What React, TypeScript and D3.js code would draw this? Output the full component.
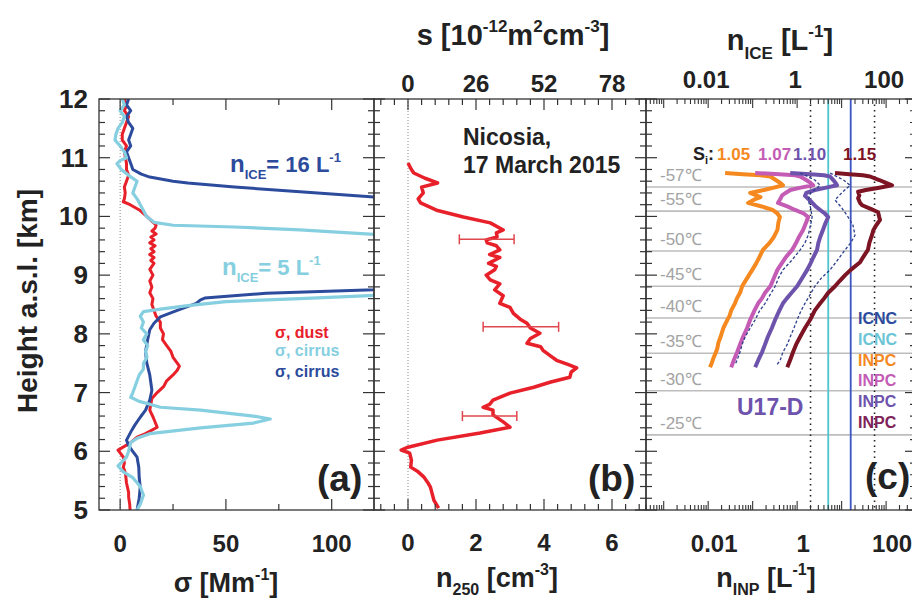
import React from "react";
import * as d3 from "d3";

const FONT = "'Liberation Sans', Arial, Helvetica, sans-serif";

const RED = "#e8202a";
const CYAN = "#86cfe0";
const NAVY = "#2c4b9c";
const ORANGE = "#f5891f";
const MAGENTA = "#c45bb4";
const PURPLE = "#6e53ad";
const DARKRED = "#7d1424";
const DASHNAVY = "#2d3f8f";

// ---- panel (a): sigma [Mm-1] vs height [km]
const dustSigma: [number, number][] = [
  [12.0, 2], [11.9, 3], [11.8, 2], [11.7, 4], [11.6, 3], [11.5, 2], [11.4, 1], [11.3, 1],
  [11.2, 3], [11.1, 2], [11.0, 2.5], [10.9, 3], [10.8, 3], [10.7, 4], [10.6, 3], [10.5, 2],
  [10.4, 2.4], [10.3, 2], [10.25, 1.5], [10.2, 4.7], [10.1, 9.5], [10.0, 12.6], [9.9, 15.6],
  [9.85, 17], [9.8, 16.5], [9.75, 15], [9.7, 17], [9.65, 14.5], [9.6, 16], [9.55, 14],
  [9.5, 16.5], [9.45, 14.5], [9.4, 16], [9.35, 14], [9.3, 16], [9.25, 14.5], [9.2, 16],
  [9.1, 14], [9.0, 15.5], [8.9, 14], [8.8, 15], [8.7, 14], [8.6, 15.5], [8.5, 15], [8.4, 16],
  [8.3, 17], [8.2, 19], [8.1, 19], [8.0, 20.5], [7.9, 20], [7.8, 22], [7.7, 24], [7.6, 25],
  [7.5, 27], [7.45, 28], [7.38, 27], [7.3, 25], [7.2, 22], [7.1, 20.5], [7.0, 17.5], [6.9, 15],
  [6.8, 14.5], [6.7, 14], [6.58, 15.6], [6.41, 17.5], [6.3, 12], [6.24, 8], [6.14, 4.7],
  [6.02, -1], [5.9, 1.5], [5.8, 2], [5.73, 1.5], [5.63, 2.5], [5.46, 3], [5.3, 4], [5.22, 4],
  [5.1, 4.5], [5.0, 4.7],
];

const cirrusSigma5: [number, number | null][] = [
  [12.0, 1], [11.9, 2], [11.8, 0], [11.7, 2], [11.6, 1], [11.5, -1], [11.4, -2], [11.3, -2.4],
  [11.2, 0], [11.1, 2], [11.0, 3], [10.95, 0], [10.9, -1.5], [10.8, 0.5], [10.7, 4], [10.6, 8],
  [10.5, 7], [10.4, 6], [10.3, 8], [10.2, 9.5], [10.1, 11], [10.0, 12.5], [9.9, 16], [9.85, 25],
  [9.82, 54], [9.77, 85], [9.7, 118], [9.62, 140], [9.0, null], [8.7, 140], [8.65, 118],
  [8.6, 85], [8.55, 50], [8.48, 32], [8.42, 19], [8.38, 11], [8.3, 9.5], [8.2, 11], [8.1, 10],
  [8.0, 12.6], [7.9, 11], [7.8, 13], [7.7, 12], [7.6, 12.7], [7.5, 11], [7.4, 11], [7.3, 9],
  [7.2, 8], [7.1, 7], [7.0, 6], [6.92, 5], [6.85, 9], [6.8, 14], [6.75, 19], [6.7, 38],
  [6.6, 63], [6.55, 71], [6.48, 63], [6.4, 38], [6.3, 14], [6.22, 8], [6.15, 5], [6.0, 4],
  [5.9, 3], [5.75, -1], [5.65, 1.5], [5.55, 6], [5.4, 9.5], [5.25, 11], [5.1, 9.5], [5.0, 8],
];

const cirrusSigma16: [number, number | null][] = [
  [12.0, 4], [11.9, 3], [11.8, 5], [11.7, 3], [11.6, 4], [11.5, 6], [11.4, 5], [11.3, 4],
  [11.2, 5], [11.1, 3], [11.0, 4], [10.9, 5], [10.8, 6], [10.72, 10], [10.67, 14], [10.6, 25],
  [10.57, 32], [10.5, 54], [10.42, 85], [10.33, 120], [10.25, 140], [9.5, null], [8.8, 140],
  [8.75, 120], [8.69, 69], [8.61, 40], [8.58, 38], [8.52, 36], [8.4, 27], [8.29, 19],
  [8.18, 16], [8.07, 14], [7.9, 13], [7.7, 12], [7.5, 12.6], [7.3, 14], [7.04, 15], [6.87, 14],
  [6.7, 12], [6.58, 9.5], [6.45, 7], [6.36, 5.5], [6.19, 3], [6.1, 4], [6.02, 5.5], [5.9, 8],
  [5.73, 8.8], [5.55, 9], [5.39, 9.5], [5.2, 9], [5.0, 8],
];

// ---- panel (b): n250 [cm-3] vs height [km]
const n250: [number, number][] = [
  [10.91, 0], [10.8, 0.1], [10.74, 0.17], [10.65, 0.5], [10.57, 0.87], [10.5, 0.4], [10.4, 0.45],
  [10.3, 0.3], [10.23, 0.37], [10.1, 0.87], [9.99, 1.63], [9.89, 2.42], [9.77, 2.8], [9.72, 2.6],
  [9.65, 2.62], [9.6, 2.3], [9.55, 2.33], [9.5, 2.6], [9.43, 2.7], [9.35, 2.4], [9.3, 2.7],
  [9.2, 2.37], [9.15, 2.6], [9.09, 2.55], [9.0, 2.3], [8.92, 2.42], [8.85, 2.7], [8.75, 2.55],
  [8.65, 2.8], [8.52, 2.7], [8.45, 3.0], [8.35, 3.1], [8.25, 3.3], [8.18, 3.5], [8.1, 3.6],
  [8.01, 3.88], [7.92, 3.6], [7.84, 3.5], [7.78, 3.9], [7.72, 3.97], [7.62, 4.2], [7.55, 4.37],
  [7.48, 4.7], [7.42, 4.96], [7.35, 4.8], [7.26, 4.76], [7.18, 4.2], [7.09, 3.7], [6.99, 3.0],
  [6.87, 2.5], [6.8, 2.4], [6.75, 2.21], [6.7, 2.5], [6.62, 2.5], [6.5, 2.8], [6.41, 3.0],
  [6.31, 2.12], [6.19, 0.86], [6.07, 0], [6.02, -0.2], [5.97, 0.05], [5.85, 0.1], [5.73, 0.08],
  [5.65, 0.3], [5.56, 0.47], [5.45, 0.6], [5.39, 0.66], [5.3, 0.7], [5.17, 0.76], [5.03, 0.9],
];

// error bars: [height, low, high]
const n250Errors: [number, number, number][] = [
  [9.61, 1.51, 3.12],
  [8.12, 2.21, 4.43],
  [6.6, 1.6, 3.2],
];

// ---- panel (c): INP concentration [L-1] vs height [km]
const inp105: [number, number][] = [
  [10.74, 0.024], [10.72, 0.06], [10.7, 0.15], [10.68, 0.25], [10.62, 0.33], [10.57, 0.42],
  [10.53, 0.48], [10.49, 0.3], [10.45, 0.18], [10.4, 0.088], [10.36, 0.12], [10.33, 0.15],
  [10.29, 0.11], [10.23, 0.079], [10.17, 0.16], [10.11, 0.28], [10.05, 0.36], [9.99, 0.41],
  [9.9, 0.38], [9.77, 0.36], [9.65, 0.3], [9.55, 0.24], [9.43, 0.17], [9.3, 0.14], [9.2, 0.12],
  [9.09, 0.098], [8.95, 0.075], [8.81, 0.058], [8.7, 0.052], [8.6, 0.044], [8.52, 0.04],
  [8.4, 0.033], [8.3, 0.03], [8.24, 0.027], [8.1, 0.022], [7.95, 0.019], [7.85, 0.017],
  [7.75, 0.016], [7.69, 0.015], [7.58, 0.013], [7.5, 0.012], [7.43, 0.011],
];
const inp107: [number, number][] = [
  [10.74, 0.114], [10.72, 0.4], [10.7, 0.9], [10.68, 1.17], [10.62, 1.6], [10.57, 2.0],
  [10.53, 2.29], [10.49, 1.2], [10.45, 0.7], [10.4, 0.55], [10.36, 0.46], [10.3, 0.42],
  [10.23, 0.37], [10.17, 0.6], [10.11, 0.9], [10.05, 1.4], [9.99, 1.77], [9.9, 1.6],
  [9.77, 1.36], [9.65, 1.1], [9.55, 0.95], [9.43, 0.77], [9.3, 0.55], [9.2, 0.45], [9.09, 0.36],
  [8.95, 0.3], [8.81, 0.25], [8.7, 0.19], [8.6, 0.16], [8.52, 0.133], [8.4, 0.11], [8.24, 0.088],
  [8.1, 0.075], [7.95, 0.061], [7.82, 0.052], [7.69, 0.045], [7.56, 0.038], [7.43, 0.033],
];
const inp110: [number, number][] = [
  [10.74, 0.7], [10.72, 2.0], [10.7, 4.0], [10.68, 5.5], [10.62, 6.5], [10.57, 7.3],
  [10.53, 7.9], [10.49, 4.5], [10.45, 2.5], [10.4, 1.6], [10.35, 1.5], [10.28, 1.9],
  [10.23, 2.2], [10.17, 2.6], [10.11, 3.3], [10.05, 4.2], [9.99, 5.0], [9.88, 4.3], [9.77, 3.8],
  [9.65, 3.3], [9.55, 3.0], [9.43, 2.8], [9.3, 2.3], [9.2, 2.0], [9.09, 1.68], [8.95, 1.3],
  [8.81, 1.0], [8.7, 0.75], [8.6, 0.58], [8.52, 0.48], [8.4, 0.4], [8.24, 0.32], [8.1, 0.27],
  [7.95, 0.22], [7.82, 0.19], [7.69, 0.163], [7.56, 0.135], [7.43, 0.114],
];
const inp115: [number, number][] = [
  [10.74, 7.1], [10.72, 15], [10.7, 30], [10.68, 43.7], [10.62, 70], [10.57, 100], [10.53, 136],
  [10.49, 70], [10.45, 35], [10.42, 23.5], [10.36, 25], [10.31, 23.5], [10.23, 26], [10.19, 28.9],
  [10.13, 45], [10.07, 66], [9.99, 70], [9.94, 73], [9.85, 60], [9.77, 52], [9.68, 48],
  [9.55, 42], [9.43, 39], [9.3, 30], [9.22, 26], [9.09, 16], [9.0, 12], [8.9, 9], [8.81, 7.1],
  [8.7, 5], [8.6, 4], [8.52, 3.3], [8.4, 2.5], [8.24, 1.96], [8.1, 1.5], [7.95, 1.17],
  [7.82, 0.95], [7.69, 0.81], [7.56, 0.7], [7.43, 0.6],
];
const inpLow: [number, number][] = [
  [10.74, 1.17], [10.62, 2.5], [10.53, 3.3], [10.4, 2.0], [10.28, 1.77], [10.15, 2.0],
  [9.99, 2.17], [9.85, 2.0], [9.68, 1.77], [9.55, 1.5], [9.43, 1.17], [9.25, 0.75], [9.09, 0.48],
  [8.95, 0.38], [8.81, 0.32], [8.65, 0.24], [8.52, 0.19], [8.38, 0.14], [8.24, 0.114],
  [8.1, 0.088], [7.95, 0.068], [7.82, 0.058], [7.69, 0.052], [7.56, 0.045], [7.47, 0.04],
];
const inpHigh: [number, number][] = [
  [10.74, 5.5], [10.62, 11], [10.53, 15.5], [10.4, 10], [10.28, 7.1], [10.15, 10], [9.99, 14],
  [9.85, 18], [9.68, 20], [9.55, 16], [9.43, 12], [9.25, 8], [9.09, 5.5], [8.95, 3.5],
  [8.81, 2.5], [8.65, 1.9], [8.52, 1.5], [8.38, 1.2], [8.24, 1.0], [8.1, 0.85], [7.95, 0.7],
  [7.82, 0.6], [7.69, 0.48], [7.56, 0.42], [7.47, 0.35],
];

const iceLines = [16, 5]; // n_ICE [L-1]
const dottedLines = [2, 55];

const tempLabels = ["-57℃", "-55℃", "-50℃", "-45℃", "-40℃", "-35℃", "-30℃", "-25℃"];
const tempHeights = [10.5, 10.09, 9.41, 8.81, 8.27, 7.67, 7.03, 6.28];

const siLabels = ["1.05", "1.07", "1.10", "1.15"];
const legendLabels = ["ICNC", "ICNC", "INPC", "INPC", "INPC", "INPC"];
const legendColors = [NAVY, "#6cc5d6", ORANGE, MAGENTA, PURPLE, "#7e2258"];

const heightTicks = [5, 6, 7, 8, 9, 10, 11, 12];
const sigmaTicks = [0, 50, 100];
const n250Ticks = [0, 2, 4, 6];
const sTicks = [0, 26, 52, 78];
const logLabelVals = [0.01, 1, 100];
const logLabelText = ["0.01", "1", "100"];

const TOP = 99;
const BOT = 510;
const AX: [number, number] = [99, 374];
const BX: [number, number] = [374, 646];
const CX: [number, number] = [646, 916];

export default function App() {
  const y = d3.scaleLinear().domain([5, 12]).range([BOT, TOP]);
  const xa = d3.scaleLinear().domain([-10, 120]).range(AX);
  const xb = d3.scaleLinear().domain([-1, 7]).range(BX);
  const xbTop = d3.scaleLinear().domain([-13, 91]).range(BX);
  const xc = d3.scaleLog().domain([4e-4, 470]).range(CX);

  const lineA = d3
    .line<[number, number | null]>()
    .defined((d) => d[1] !== null)
    .x((d) => xa(d[1] as number))
    .y((d) => y(d[0]));
  const lineB = d3.line<[number, number]>().x((d) => xb(d[1])).y((d) => y(d[0]));
  const lineC = d3.line<[number, number]>().x((d) => xc(d[1])).y((d) => y(d[0]));

  const yMinor = d3.range(5, 12.001, 0.2).filter((v) => Math.abs(v - Math.round(v)) > 0.01);

  const yTicks = (x0: number, x1: number, key: string) => (
    <g key={key} stroke="#333" strokeWidth={1.2}>
      {heightTicks.map((v) => (
        <g key={"M" + v}>
          <line x1={x0} x2={x0 + 11} y1={y(v)} y2={y(v)} />
          <line x1={x1} x2={x1 - 11} y1={y(v)} y2={y(v)} />
        </g>
      ))}
      {yMinor.map((v) => (
        <g key={"m" + v}>
          <line x1={x0} x2={x0 + 6} y1={y(v)} y2={y(v)} />
          <line x1={x1} x2={x1 - 6} y1={y(v)} y2={y(v)} />
        </g>
      ))}
    </g>
  );

  const xTicks = (pos: number[], isMajor: (v: number) => boolean, sc: (v: number) => number, key: string) => (
    <g key={key} stroke="#333" strokeWidth={1.2}>
      {pos.map((v, i) => {
        const len = isMajor(v) ? 11 : 6;
        return (
          <g key={i}>
            <line x1={sc(v)} x2={sc(v)} y1={BOT} y2={BOT - len} />
            <line x1={sc(v)} x2={sc(v)} y1={TOP} y2={TOP + len} />
          </g>
        );
      })}
    </g>
  );

  const aTickPos = [0, 25, 50, 75, 100];
  const bTickPos = d3.range(-0.8, 6.9, 0.4);
  const cTickPos = xc.ticks();
  const isDecade = (v: number) => Math.abs(Math.log10(v) - Math.round(Math.log10(v))) < 1e-6;

  const inpSeries: [[number, number][], string][] = [
    [inp105, ORANGE],
    [inp107, MAGENTA],
    [inp110, PURPLE],
    [inp115, DARKRED],
  ];
  const siX = [717, 758, 793, 843];
  const siColors = [ORANGE, MAGENTA, PURPLE, DARKRED];

  return (
    <svg
      width={912}
      height={600}
      style={{ position: "absolute", left: 0, top: 0, background: "#fff" }}
      fontFamily={FONT}
    >
      <defs>
        <clipPath id="clipA"><rect x={AX[0]} y={TOP} width={AX[1] - AX[0]} height={BOT - TOP} /></clipPath>
        <clipPath id="clipB"><rect x={BX[0]} y={TOP} width={BX[1] - BX[0]} height={BOT - TOP} /></clipPath>
        <clipPath id="clipC"><rect x={CX[0]} y={TOP} width={CX[1] - CX[0]} height={BOT - TOP} /></clipPath>
      </defs>

      {/* panel (c) background lines */}
      <g clipPath="url(#clipC)">
        {tempHeights.map((h, i) => (
          <g key={i}>
            <line x1={CX[0]} x2={CX[1]} y1={y(h)} y2={y(h)} stroke="#bdbdbd" strokeWidth={1.6} />
            <text x={660} y={y(h) - 6} fontSize={17} fill="#a3a3a3">{tempLabels[i]}</text>
          </g>
        ))}
        {dottedLines.map((v) => (
          <line key={v} x1={xc(v)} x2={xc(v)} y1={TOP} y2={BOT} stroke="#222" strokeWidth={1.6} strokeDasharray="1.5,4" />
        ))}
        <line x1={xc(iceLines[1])} x2={xc(iceLines[1])} y1={TOP} y2={BOT} stroke="#4fc4cf" strokeWidth={1.8} />
        <line x1={xc(iceLines[0])} x2={xc(iceLines[0])} y1={TOP} y2={BOT} stroke="#3a54c2" strokeWidth={1.8} />
        {inpSeries.map(([d, c], i) => (
          <path key={i} d={lineC(d) || ""} fill="none" stroke={c} strokeWidth={4} strokeLinejoin="round" />
        ))}
        <path d={lineC(inpLow) || ""} fill="none" stroke={DASHNAVY} strokeWidth={1.3} strokeDasharray="3,2" />
        <path d={lineC(inpHigh) || ""} fill="none" stroke={DASHNAVY} strokeWidth={1.3} strokeDasharray="3,2" />
      </g>

      {/* zero lines */}
      <line x1={xa(0)} x2={xa(0)} y1={TOP} y2={BOT} stroke="#888" strokeWidth={1} strokeDasharray="1,2" />
      <line x1={xb(0)} x2={xb(0)} y1={TOP} y2={BOT} stroke="#888" strokeWidth={1} strokeDasharray="1,2" />

      {/* panel (a) profiles */}
      <g clipPath="url(#clipA)" fill="none" strokeLinejoin="round">
        <path d={lineA(dustSigma) || ""} stroke={RED} strokeWidth={3} />
        <path d={lineA(cirrusSigma16) || ""} stroke={NAVY} strokeWidth={3} />
        <path d={lineA(cirrusSigma5) || ""} stroke={CYAN} strokeWidth={3.2} />
      </g>

      {/* panel (b) profile */}
      <g clipPath="url(#clipB)">
        <path d={lineB(n250) || ""} fill="none" stroke={RED} strokeWidth={3.5} strokeLinejoin="round" />
        {n250Errors.map(([h, lo, hi], i) => (
          <g key={i} stroke="#e0464c" strokeWidth={1.5}>
            <line x1={xb(lo)} x2={xb(hi)} y1={y(h)} y2={y(h)} />
            <line x1={xb(lo)} x2={xb(lo)} y1={y(h) - 5} y2={y(h) + 5} />
            <line x1={xb(hi)} x2={xb(hi)} y1={y(h) - 5} y2={y(h) + 5} />
          </g>
        ))}
      </g>

      {/* frames */}
      <g fill="none" stroke="#333" strokeWidth={1.3}>
        <rect x={AX[0]} y={TOP} width={AX[1] - AX[0]} height={BOT - TOP} />
        <rect x={BX[0]} y={TOP} width={BX[1] - BX[0]} height={BOT - TOP} />
        <rect x={CX[0]} y={TOP} width={CX[1] - CX[0]} height={BOT - TOP} />
      </g>
      {yTicks(AX[0], AX[1], "ya")}
      {yTicks(BX[0], BX[1], "yb")}
      {yTicks(CX[0], CX[1], "yc")}
      {xTicks(aTickPos, (v) => v % 50 === 0, xa, "xa")}
      {xTicks(bTickPos, (v) => Math.abs(v / 2 - Math.round(v / 2)) < 1e-6, xb, "xb")}
      <g stroke="#333" strokeWidth={1.1}>
        {cTickPos.map((v, i) => {
          const len = isDecade(v) ? 9 : 5;
          return (
            <g key={i}>
              <line x1={xc(v)} x2={xc(v)} y1={BOT} y2={BOT - len} />
              <line x1={xc(v)} x2={xc(v)} y1={TOP} y2={TOP + len} />
            </g>
          );
        })}
      </g>

      {/* tick labels */}
      <g fontSize={24} fontWeight="bold" fill="#222">
        {heightTicks.map((v) => (
          <text key={v} x={88} y={y(v) + 9} textAnchor="end" fontSize={26}>{v}</text>
        ))}
        {sigmaTicks.map((v) => (
          <text key={v} x={xa(v)} y={552} textAnchor="middle">{v}</text>
        ))}
        {n250Ticks.map((v) => (
          <text key={v} x={xb(v)} y={551} textAnchor="middle">{v}</text>
        ))}
        {sTicks.map((v) => (
          <text key={v} x={xbTop(v)} y={92} textAnchor="middle">{v}</text>
        ))}
        {logLabelVals.map((v, i) => (
          <text key={"b" + v} x={xc(v) + 6} y={552} textAnchor="middle">{logLabelText[i]}</text>
        ))}
        {logLabelVals.map((v, i) => (
          <text key={"t" + v} x={xc(v) - 2} y={88} textAnchor="middle">{logLabelText[i]}</text>
        ))}
      </g>

      {/* axis titles */}
      <g fontWeight="bold" fill="#222">
        <text transform="translate(37,301) rotate(-90)" textAnchor="middle" fontSize={28}>
          Height a.s.l. [km]
        </text>
        <text x={226} y={592} textAnchor="middle" fontSize={27}>
          σ [Mm<tspan fontSize={16} dy={-12}>-1</tspan><tspan dy={12}>]</tspan>
        </text>
        <text x={497} y={587} textAnchor="middle" fontSize={27}>
          n<tspan fontSize={16} dy={8}>250</tspan><tspan dy={-8}> [cm</tspan>
          <tspan fontSize={16} dy={-12}>-3</tspan><tspan dy={12}>]</tspan>
        </text>
        <text x={766} y={587} textAnchor="middle" fontSize={27}>
          n<tspan fontSize={16} dy={8}>INP</tspan><tspan dy={-8}> [L</tspan>
          <tspan fontSize={16} dy={-12}>-1</tspan><tspan dy={12}>]</tspan>
        </text>
        <text x={513} y={45} textAnchor="middle" fontSize={29}>
          s [10<tspan fontSize={17} dy={-13}>-12</tspan><tspan dy={13}>m</tspan>
          <tspan fontSize={17} dy={-13}>2</tspan><tspan dy={13}>cm</tspan>
          <tspan fontSize={17} dy={-13}>-3</tspan><tspan dy={13}>]</tspan>
        </text>
        <text x={780} y={50} textAnchor="middle" fontSize={29}>
          n<tspan fontSize={17} dy={9}>ICE</tspan><tspan dy={-9}> [L</tspan>
          <tspan fontSize={17} dy={-13}>-1</tspan><tspan dy={13}>]</tspan>
        </text>
      </g>

      {/* annotations panel (a) */}
      <g fontWeight="bold">
        <text x={230} y={172} fontSize={24} fill={NAVY}>
          n<tspan fontSize={13} dy={7}>ICE</tspan><tspan fontSize={22} dy={-7}>= 16 L</tspan>
          <tspan fontSize={13} dy={-10}>-1</tspan>
        </text>
        <text x={222} y={275} fontSize={24} fill={CYAN}>
          n<tspan fontSize={13} dy={7}>ICE</tspan><tspan fontSize={22} dy={-7}>= 5 L</tspan>
          <tspan fontSize={13} dy={-10}>-1</tspan>
        </text>
        <text x={275} y={338} fontSize={16} fill={RED}>σ, dust</text>
        <text x={275} y={356} fontSize={16} fill={CYAN}>σ, cirrus</text>
        <text x={275} y={377} fontSize={16} fill={NAVY}>σ, cirrus</text>
        <text x={317} y={491} fontSize={37} fill="#222">(a)</text>
      </g>

      {/* annotations panel (b) */}
      <g fontWeight="bold" fill="#222">
        <text x={463} y={145} fontSize={23}>Nicosia,</text>
        <text x={463} y={173} fontSize={23}>17 March 2015</text>
        <text x={588} y={491} fontSize={37}>(b)</text>
      </g>

      {/* annotations panel (c) */}
      <g fontWeight="bold">
        <text x={693} y={160} fontSize={18} fill="#222">
          S<tspan fontSize={11} dy={4}>i</tspan><tspan dy={-4}>:</tspan>
        </text>
        {siLabels.map((s, i) => (
          <text key={s} x={siX[i]} y={160} fontSize={17} fill={siColors[i]}>{s}</text>
        ))}
        {legendLabels.map((s, i) => (
          <text key={i} x={858} y={324 + i * 20.8} fontSize={16} fill={legendColors[i]}>{s}</text>
        ))}
        <text x={737} y={415} fontSize={23} fill={PURPLE}>U17-D</text>
        <text x={865} y={489} fontSize={37} fill="#222">(c)</text>
      </g>
    </svg>
  );
}
